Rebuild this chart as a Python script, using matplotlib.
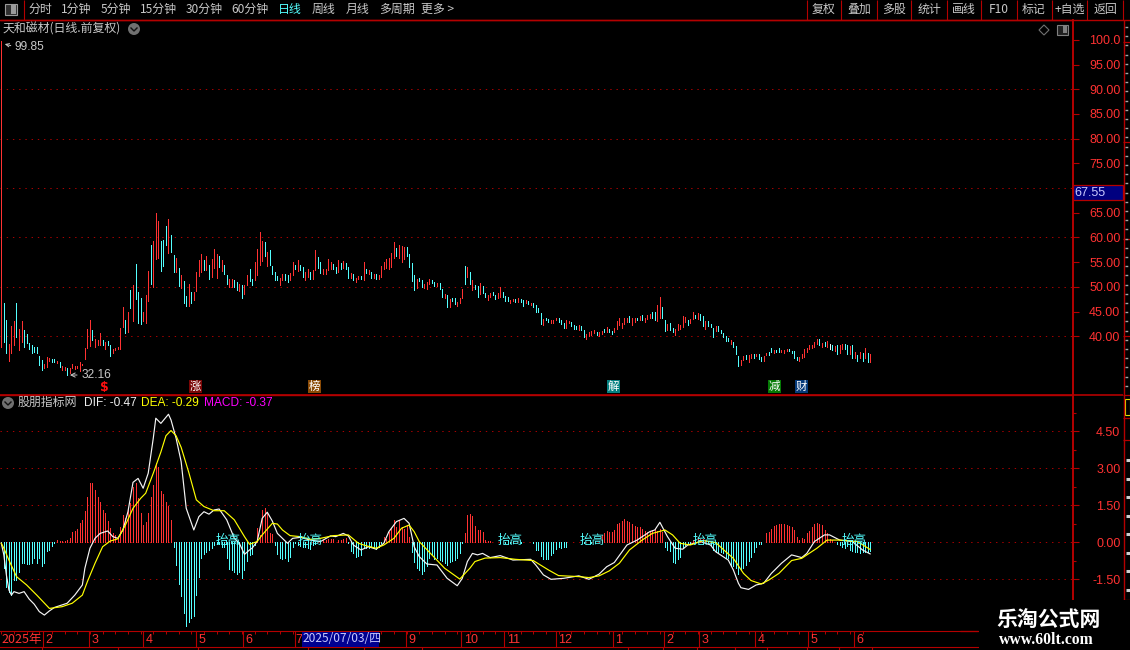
import numpy as np
import matplotlib
matplotlib.use("Agg")
from matplotlib import pyplot as plt
from matplotlib.patches import Rectangle, Circle, Polygon

plt.rcParams['font.family'] = ['Noto Sans CJK SC', 'DejaVu Sans']

highs = [
    99.85, 46.7, 43.3, 38.4, 42.0, 43.1, 46.7, 41.5, 43.1, 41.3,
    40.5, 38.6, 38.2, 37.9, 37.9, 36.0, 35.2, 34.4, 35.9, 35.7,
    35.4, 35.4, 35.0, 34.8, 33.9, 33.7, 33.6, 33.6, 34.4, 33.9,
    34.0, 34.8, 34.4, 37.6, 41.5, 43.3, 41.3, 39.4, 39.3, 40.6,
    39.3, 38.8, 39.1, 38.2, 37.4, 37.7, 37.9, 41.7, 46.0, 43.4,
    44.9, 49.4, 50.4, 54.6, 48.9, 47.8, 44.9, 48.4, 53.2, 58.5,
    59.3, 64.9, 63.3, 59.3, 59.5, 62.3, 63.8, 60.5, 56.5, 55.9,
    53.8, 52.4, 51.1, 48.2, 50.6, 49.0, 49.0, 53.1, 55.5, 56.6,
    55.5, 56.3, 54.4, 55.7, 57.7, 56.7, 56.3, 55.5, 54.4, 52.4,
    51.5, 51.6, 51.4, 50.9, 50.5, 50.4, 50.4, 52.4, 53.6, 51.6,
    55.0, 57.7, 61.1, 59.3, 59.0, 57.1, 57.5, 54.2, 53.1, 52.3,
    51.9, 52.6, 52.6, 52.4, 52.8, 55.0, 54.4, 55.5, 54.4, 54.1,
    53.1, 53.6, 53.1, 53.4, 57.5, 56.1, 55.1, 53.6, 53.6, 55.7,
    55.1, 54.6, 54.1, 55.5, 54.9, 55.2, 54.9, 54.1, 52.9, 52.6,
    51.9, 52.3, 52.3, 55.1, 53.6, 53.4, 53.1, 52.6, 52.6, 52.4,
    54.3, 55.1, 55.7, 55.9, 56.9, 59.0, 57.9, 58.5, 58.2, 58.0,
    58.0, 56.7, 54.9, 52.4, 51.5, 51.9, 51.4, 50.6, 51.0, 51.5,
    51.4, 51.0, 50.7, 50.7, 49.6, 48.6, 48.4, 47.5, 47.7, 47.7,
    47.0, 47.7, 49.6, 54.2, 54.0, 53.1, 51.4, 50.4, 50.2, 50.7,
    50.2, 48.7, 48.4, 48.7, 48.9, 48.4, 48.7, 49.9, 48.9, 48.2,
    47.9, 47.4, 47.6, 47.6, 47.7, 47.5, 47.4, 47.4, 47.1, 46.7,
    46.7, 46.3, 45.7, 44.7, 43.5, 43.8, 43.5, 43.3, 43.3, 43.8,
    43.8, 43.3, 42.7, 43.3, 43.0, 42.9, 42.3, 42.1, 42.2, 42.1,
    41.3, 40.5, 40.8, 41.1, 41.3, 40.9, 40.9, 41.1, 41.5, 41.9,
    41.5, 41.1, 41.6, 43.0, 43.7, 42.6, 43.7, 43.8, 44.1, 43.7,
    43.7, 43.7, 44.1, 44.3, 43.8, 44.3, 44.5, 44.9, 44.9, 46.3,
    47.9, 45.9, 43.3, 42.5, 42.6, 41.6, 41.5, 42.5, 42.3, 44.1,
    43.9, 43.3, 43.6, 44.9, 44.3, 44.7, 44.5, 44.1, 43.1, 43.0,
    42.5, 41.6, 42.1, 42.1, 41.3, 40.6, 40.1, 39.7, 39.3, 38.9,
    38.0, 36.0, 35.2, 36.0, 36.2, 36.2, 36.4, 36.4, 36.4, 36.4,
    35.8, 36.0, 36.6, 36.8, 37.6, 37.2, 37.2, 37.6, 37.2, 37.2,
    37.4, 37.4, 37.0, 37.0, 35.8, 35.8, 36.4, 37.4, 37.6, 38.2,
    38.2, 38.9, 39.5, 39.5, 38.7, 38.9, 39.1, 38.4, 38.2, 38.0,
    38.2, 38.2, 38.4, 38.4, 38.2, 38.0, 38.2, 36.8, 36.2, 36.8,
    36.6, 37.6, 36.6, 36.4,
]
lows = [
    37.9, 38.8, 36.7, 35.1, 36.7, 38.2, 39.9, 37.2, 38.8, 37.9,
    38.7, 37.4, 36.7, 36.9, 36.6, 34.2, 33.1, 33.5, 33.7, 34.9,
    34.7, 34.7, 34.5, 33.7, 33.2, 33.2, 32.2, 32.5, 33.5, 33.4,
    33.5, 33.0, 34.1, 35.5, 37.7, 38.0, 39.3, 37.9, 38.2, 38.2,
    38.2, 37.4, 38.2, 36.0, 36.7, 37.2, 37.4, 37.4, 41.8, 40.6,
    40.9, 45.7, 43.1, 47.6, 42.6, 42.5, 43.0, 42.6, 47.2, 50.5,
    49.9, 55.7, 55.9, 53.2, 54.2, 58.4, 56.8, 57.0, 53.1, 53.1,
    50.1, 49.7, 46.7, 46.2, 46.2, 46.7, 47.4, 49.2, 52.2, 53.1,
    53.4, 53.4, 51.6, 52.1, 53.8, 51.8, 54.1, 53.3, 52.6, 50.6,
    49.9, 49.9, 49.9, 49.4, 49.2, 47.8, 48.6, 50.3, 51.1, 50.4,
    51.4, 52.4, 54.4, 55.2, 56.3, 54.3, 54.4, 52.6, 51.4, 51.4,
    50.4, 51.4, 51.4, 50.9, 51.4, 52.4, 53.6, 53.2, 53.4, 52.1,
    51.4, 52.1, 51.6, 51.7, 53.4, 53.8, 52.8, 52.6, 52.6, 53.4,
    53.6, 53.6, 52.9, 53.0, 53.6, 53.8, 53.6, 51.9, 51.9, 51.4,
    51.0, 51.7, 51.5, 51.4, 52.9, 52.6, 51.9, 51.9, 51.6, 51.7,
    52.1, 53.6, 53.8, 53.6, 54.1, 55.8, 56.3, 55.9, 55.1, 55.7,
    56.3, 54.0, 51.2, 49.4, 49.7, 51.1, 49.9, 49.7, 49.6, 50.6,
    50.7, 50.1, 50.1, 49.6, 47.9, 47.7, 45.9, 45.9, 47.2, 46.5,
    46.1, 46.8, 47.7, 50.6, 52.1, 50.6, 49.4, 49.5, 47.9, 48.6,
    48.7, 47.9, 47.4, 47.9, 48.4, 47.6, 47.8, 47.9, 47.9, 47.2,
    47.2, 46.8, 47.1, 47.0, 47.0, 47.0, 46.1, 46.8, 46.5, 46.3,
    45.9, 44.9, 44.9, 42.5, 42.3, 43.3, 42.9, 42.7, 42.7, 43.4,
    42.9, 42.5, 41.7, 41.7, 42.7, 42.1, 41.5, 41.5, 41.3, 41.3,
    39.9, 39.5, 40.0, 40.3, 40.6, 40.3, 40.1, 40.5, 40.8, 40.8,
    40.9, 40.5, 40.8, 41.4, 42.3, 41.6, 42.5, 42.8, 42.8, 42.3,
    42.8, 43.2, 43.2, 43.2, 42.9, 43.5, 43.7, 43.8, 43.3, 43.1,
    43.8, 43.8, 41.1, 41.2, 41.3, 40.8, 40.3, 41.3, 41.5, 41.9,
    42.8, 42.3, 42.7, 43.5, 43.7, 43.5, 43.3, 42.1, 41.5, 42.1,
    41.8, 39.9, 41.1, 41.1, 40.6, 39.9, 39.1, 39.1, 38.4, 37.8,
    36.4, 34.0, 34.2, 35.2, 35.4, 34.8, 35.6, 35.6, 36.0, 35.4,
    35.0, 35.0, 36.2, 36.2, 36.8, 36.6, 36.8, 36.8, 36.8, 36.6,
    37.0, 37.0, 36.6, 35.6, 35.2, 35.0, 35.6, 35.8, 36.8, 37.4,
    37.6, 37.8, 38.4, 38.2, 37.8, 38.0, 37.8, 37.4, 37.2, 37.0,
    36.4, 36.6, 37.4, 37.4, 36.4, 36.4, 35.6, 35.6, 35.0, 35.6,
    35.0, 35.6, 34.8, 34.8,
]
# r = rising, c = falling, w = flat
bar_kind = (
    "rccrrrcrrc" "cccccccrrr" "ccrcrrcrrr" "rrrrrrcrrr" "crccrrrrrc"
    "rcrcccrrrc" "rrrcccrccr" "crccrcrrrr" "crcrrrcrcc" "rrccrcrrcc"
    "rrrrcrcccc" "rrccrrcrcc" "rrcrrccrrr" "rccrcrccrc" "rrcrcrcrcr"
    "rrrrrrcrrr" "ccccrccrrr" "ccrccrcrcc" "rrrcrcrccr" "ccrrccrrcc"
    "crrcrccrcr" "ccccrccrrr" "cccrrcccrc" "crrrrcrrcr" "ccrrrrrrcr"
    "rcrcrrrccr" "rccrccrrrr" "rcrrcrccrc" "ccrcccccrc" "ccrrcrrcrc"
    "crrccrccrr" "rccccrrrrr" "rrrcrcrwcr" "crrccrcrcr" "crcr"
)

macd = [
    -0.02, -1.05, -1.80, -2.00, -2.14, -1.53, -1.53, -1.19, -0.85, -0.85,
    -0.88, -0.88, -0.85, -0.65, -0.85, -0.65, -0.95, -0.85, -0.35, -0.31,
    -0.14, -0.02, 0.09, 0.07, 0.07, 0.07, 0.11, 0.16, 0.43, 0.46,
    0.53, 0.77, 0.91, 1.27, 1.85, 2.39, 2.42, 2.12, 1.85, 1.65,
    1.31, 1.18, 0.86, 0.57, 0.36, 0.30, 0.23, 0.64, 1.11, 0.97,
    1.38, 1.58, 2.26, 2.39, 1.78, 1.18, 0.70, 0.84, 1.18, 1.85,
    2.32, 3.20, 3.07, 2.08, 1.95, 1.65, 1.47, 0.91, -0.18, -0.92,
    -1.70, -2.18, -2.88, -3.38, -3.22, -3.05, -2.97, -2.14, -1.39, -0.62,
    -0.49, -0.41, -0.31, -0.24, -0.10, -0.05, -0.05, -0.20, -0.20, -0.62,
    -1.08, -1.12, -1.19, -1.30, -1.19, -1.43, -1.12, -0.74, -0.51, -0.49,
    -0.10, 0.57, 0.30, 1.31, 1.38, 1.22, 0.36, 0.32, -0.11, -0.49,
    -0.65, -0.68, -0.65, -0.74, -0.58, -0.18, -0.04, -0.10, -0.15, -0.20,
    -0.20, -0.25, -0.28, -0.10, -0.05, 0.03, 0.05, 0.10, 0.10, 0.15,
    0.15, 0.12, 0.02, 0.10, 0.10, 0.15, 0.18, -0.02, -0.35, -0.45,
    -0.58, -0.55, -0.50, -0.18, -0.24, -0.24, -0.20, -0.24, -0.28, -0.18,
    -0.04, 0.23, 0.12, 0.42, 0.58, 0.92, 0.62, 0.92, 0.62, 0.55,
    0.70, 0.22, -0.38, -0.78, -1.05, -1.12, -1.30, -1.16, -0.95, -0.62,
    -0.50, -0.68, -0.62, -0.70, -0.75, -0.85, -0.92, -0.80, -0.75, -0.72,
    -0.65, -0.45, -0.03, 0.38, 1.10, 1.15, 1.05, 0.65, 0.50, 0.50,
    0.42, 0.10, 0.07, 0.07, 0.02, 0.02, 0.02, -0.02, 0.03, -0.03,
    0.02, -0.02, 0.02, 0.02, 0.02, -0.02, 0.02, 0.02, 0.02, 0.02,
    -0.03, -0.30, -0.30, -0.55, -0.66, -0.66, -0.68, -0.50, -0.42, -0.27,
    -0.20, -0.22, -0.20, -0.18, 0.01, 0.02, 0.02, 0.02, 0.02, 0.02,
    -0.03, 0.03, 0.03, -0.03, 0.03, 0.03, 0.03, 0.30, 0.36, 0.46,
    0.43, 0.43, 0.50, 0.73, 0.80, 0.86, 0.95, 0.88, 0.81, 0.74,
    0.68, 0.61, 0.63, 0.53, 0.47, 0.41, 0.47, 0.50, 0.53, 0.46,
    0.53, 0.43, -0.18, -0.31, -0.35, -0.78, -0.82, -0.69, -0.58, -0.24,
    -0.10, -0.05, -0.08, 0.10, 0.12, 0.20, 0.15, 0.12, 0.10, 0.05,
    -0.10, -0.30, -0.38, -0.45, -0.38, -0.45, -0.65, -0.65, -0.92, -0.96,
    -1.05, -1.28, -1.12, -1.05, -0.92, -0.76, -0.58, -0.41, -0.18, -0.07,
    -0.07, 0.03, 0.36, 0.43, 0.54, 0.68, 0.70, 0.73, 0.73, 0.73,
    0.70, 0.68, 0.60, 0.50, 0.23, 0.10, 0.16, 0.12, 0.36, 0.47,
    0.60, 0.73, 0.80, 0.73, 0.70, 0.50, 0.36, 0.12, 0.10, 0.02,
    -0.05, -0.10, -0.20, -0.25, -0.15, -0.30, -0.35, -0.38, -0.38, -0.45,
    -0.38, -0.38, -0.38, -0.37,
]

# DIF / DEA read at the turning points of the curves
dif_idx = [
    0, 1, 2, 3, 4, 5, 7, 9, 11, 13, 15, 17, 19, 21, 24, 26, 29, 32, 33, 35,
    37, 39, 42, 44, 46, 48, 50, 52, 54, 56, 58, 60, 61, 63, 66, 67, 69, 71, 72, 73,
    76, 78, 80, 82, 84, 86, 89, 92, 94, 96, 98, 99, 101, 103, 105, 107, 109, 113, 115, 118,
    122, 126, 130, 132, 135, 137, 139, 142, 145, 148, 151, 153, 156, 159, 161, 163, 165, 168, 172, 176,
    180, 182, 184, 186, 188, 190, 193, 197, 202, 209, 211, 214, 217, 222, 228, 232, 236, 239, 242, 247,
    251, 256, 258, 260, 263, 266, 269, 271, 276, 280, 282, 287, 289, 291, 292, 295, 298, 301, 304, 308,
    312, 316, 318, 321, 325, 327, 331, 336, 340, 343,
]
dif = [
    -0.04, -0.51, -1.32, -1.93, -2.14, -2.00, -2.07, -2.00, -2.30, -2.51, -2.81, -2.95, -2.78, -2.64, -2.54, -2.47, -2.14, -1.73, -1.05, -0.24,
    0.16, 0.36, 0.46, 0.23, 0.16, 0.50, 1.24, 2.43, 2.59, 2.19, 2.80, 4.22, 5.03, 4.82, 5.19, 4.96, 4.22, 3.27, 2.32, 1.38,
    0.50, 1.04, 1.24, 1.14, 1.31, 1.35, 0.91, 0.16, -0.04, -0.49, -0.31, -0.24, 0.03, 0.97, 1.22, 0.86, 0.36, -0.04, 0.16, 0.20,
    0.09, 0.03, 0.26, 0.23, 0.36, 0.26, -0.11, -0.31, -0.18, -0.28, -0.04, 0.43, 0.84, 0.97, 0.77, -0.18, -0.58, -0.88, -0.92, -1.46,
    -1.76, -1.46, -0.78, -0.45, -0.51, -0.45, -0.62, -0.54, -0.72, -0.69, -0.92, -1.32, -1.50, -1.46, -1.36, -1.50, -1.29, -0.99, -0.82, -0.11,
    0.09, 0.43, 0.50, 0.81, 0.23, -0.24, -0.28, -0.11, 0.03, -0.11, -0.38, -0.72, -1.12, -1.66, -1.84, -1.91, -1.73, -1.66, -1.26, -0.85,
    -0.51, -0.62, -0.45, 0.03, 0.30, 0.30, 0.09, 0.03, -0.31, -0.47,
]
dea_idx = [
    0, 1, 3, 6, 10, 14, 19, 24, 28, 32, 34, 37, 40, 43, 46, 49, 52, 55, 57, 60,
    63, 65, 67, 69, 71, 74, 77, 80, 84, 88, 92, 96, 98, 101, 103, 107, 109, 111, 114, 118,
    122, 126, 131, 137, 141, 144, 148, 151, 155, 158, 161, 163, 165, 170, 175, 181, 185, 187, 191, 197,
    203, 210, 216, 220, 228, 232, 236, 240, 244, 248, 253, 257, 262, 265, 268, 272, 277, 282, 286, 289,
    293, 296, 300, 303, 307, 312, 316, 322, 326, 331, 338, 343,
]
dea = [
    -0.04, -0.24, -0.72, -1.39, -1.73, -2.14, -2.68, -2.61, -2.47, -2.14, -1.59, -0.85, -0.18, 0.05, 0.14, 0.70, 1.38, 1.78, 1.99, 2.80,
    3.66, 4.32, 4.53, 4.32, 3.85, 2.84, 1.72, 1.45, 1.28, 1.28, 0.91, 0.23, -0.08, 0.03, 0.30, 0.77, 0.74, 0.50, 0.27, 0.23,
    0.12, 0.16, 0.27, 0.30, -0.04, -0.14, -0.24, -0.11, 0.16, 0.57, 0.70, 0.43, 0.03, -0.51, -1.05, -1.49, -1.05, -0.78, -0.64, -0.62,
    -0.69, -0.74, -1.12, -1.35, -1.39, -1.43, -1.36, -1.16, -0.85, -0.31, 0.09, 0.36, 0.50, 0.30, -0.04, -0.11, 0.07, -0.01, -0.38, -0.65,
    -1.26, -1.55, -1.69, -1.53, -1.26, -0.74, -0.65, -0.24, 0.09, 0.09, 0.03, -0.29,
]

price_ticks = [100, 95, 90, 85, 80, 75, 65, 60, 55, 50, 45, 40]
price_labels = ["100.0", "95.00", "90.00", "85.00", "80.00", "75.00", "65.00", "60.00", "55.00", "50.00", "45.00", "40.00"]
price_grid = [90, 80, 70, 60, 50, 40]
macd_ticks = [4.5, 3.0, 1.5, 0.0, -1.5]
macd_labels = ["4.50", "3.00", "1.50", "0.00", "-1.50"]
macd_minor = [5.25, 3.75, 2.25, 0.75, -0.75]

tag_idx = [89.5, 121.9, 200.8, 233.2, 277.8, 336.8]
tag_text = "抬高"

event_idx = [40.5, 76.5, 123.7, 241.7, 305.3, 315.9]
event_text = ["$", "涨", "榜", "解", "减", "财"]
event_bg = ["none", "#7a0505", "#8a4a05", "#058080", "#057a05", "#053a7a"]

month_idx = [16.5, 34.6, 55.9, 76.9, 95.4, 116, 159.7, 181.5, 198.5, 219, 241.5, 261.6, 275.4, 297.5, 318.4, 336.6]
month_text = ["2", "3", "4", "5", "6", "7", "9", "10", "11", "12", "1", "2", "3", "4", "5", "6"]

menu_left = ["分时", "1分钟", "5分钟", "15分钟", "30分钟", "60分钟", "日线", "周线", "月线", "多周期", "更多 >"]
menu_left_x = [40, 76, 116, 158, 204, 250, 290, 323, 358, 397, 438]
menu_right = ["复权", "叠加", "多股", "统计", "画线", "F10", "标记", "+自选", "返回"]
menu_right_x = [824, 859, 894, 929, 964, 999, 1034, 1070, 1105]
menu_sep = [807, 841, 877, 911, 947, 981, 1017, 1052, 1087, 1123]

RED = "#ff3232"
CYAN = "#54ffff"
LINE = "#b40000"
GREY = "#c8c8c8"
W, H = 1130, 650
STEP = 2.533
X0 = 1.3
THIN = 0.6


def px_axes(fig, left, top, right, bottom):
    ax = fig.add_axes([left / W, 1 - bottom / H, (right - left) / W, (bottom - top) / H])
    ax.set_facecolor("black")
    ax.set_xlim((left - X0) / STEP, (right - X0) / STEP)
    return ax


def style_panel(ax):
    ax.set_xticks([])
    for side in ("left", "bottom"):
        ax.spines[side].set_visible(False)
    ax.spines["right"].set_color(LINE)
    ax.spines["right"].set_linewidth(1.4)
    ax.spines["top"].set_color(LINE)
    ax.spines["top"].set_linewidth(1.0)
    ax.yaxis.tick_right()
    ax.tick_params(axis="y", which="major", colors=LINE, length=4, width=0.8, pad=30.5, labelcolor=RED)
    ax.tick_params(axis="y", which="minor", colors=LINE, length=2.5, width=0.8)


fig = plt.figure(figsize=(W / 100, H / 100), dpi=100, facecolor="black")

# price panel
ax = px_axes(fig, 0, 20, 1072.5, 394.5)
ax.set_ylim(40 + (336.3 - 394.5) / 4.94, 40 + (336.3 - 20) / 4.94)
style_panel(ax)
ax.set_yticks(price_ticks)
ax.set_yticklabels(price_labels, ha="right", family="Liberation Sans", fontsize=9)
ax.set_yticks([90, 80, 70, 60, 50, 40, 100], minor=True)
ax.hlines(price_grid, ax.get_xlim()[0], ax.get_xlim()[1], color="#b00000", lw=0.7,
          linestyles=(0, (1.4, 5)), zorder=1)

idx = np.arange(len(highs))
kind_colors = {"r": RED, "c": CYAN, "w": "#f0f0f0"}
bar_colors = [kind_colors[k] for k in bar_kind]
ax.vlines(idx, lows, highs, colors=bar_colors, lw=THIN, antialiased=False, zorder=3)

ax.annotate("", xy=(26.0, 32.16), xytext=(31.0, 32.16), zorder=4,
            arrowprops=dict(arrowstyle="->,head_width=0.15,head_length=0.3", color=GREY, lw=0.7))
ax.text(31.6, 32.16, "32.16", color=GREY, fontsize=8.6, va="center", family="Liberation Sans")
ax.text(5.4, 98.6, "99.85", color=GREY, fontsize=8.6, va="center", ha="left", family="Liberation Sans")
ax.annotate("", xy=(0.3, 99.3), xytext=(4.8, 98.7), zorder=4,
            arrowprops=dict(arrowstyle="->,head_width=0.12,head_length=0.25", color=GREY, lw=0.7))

# MACD panel
ax2 = px_axes(fig, 0, 394.5, 1072.5, 630.5)
ax2.set_ylim((542.3 - 630.5) / 24.67, (542.3 - 394.5) / 24.67)
style_panel(ax2)
ax2.set_yticks(macd_ticks)
ax2.set_yticklabels(macd_labels, ha="right", family="Liberation Sans", fontsize=9)
ax2.set_yticks(macd_minor, minor=True)
ax2.hlines(macd_ticks, ax2.get_xlim()[0], ax2.get_xlim()[1], color="#b00000", lw=0.7,
           linestyles=(0, (1.4, 5)), zorder=1)

macd_colors = [RED if v >= 0 else CYAN for v in macd]
ax2.vlines(np.arange(len(macd)), 0, macd, colors=macd_colors, lw=THIN, antialiased=False, zorder=2)
ax2.plot(dea_idx, dea, color="#ffff00", lw=0.85, zorder=4)
ax2.plot(dif_idx, dif, color="#f5f5f5", lw=0.85, zorder=3)
for t in tag_idx:
    ax2.text(t, 0.06, tag_text, color=CYAN, fontsize=9, ha="center", va="center", zorder=5)

# date strip
ax3 = px_axes(fig, 0, 630.5, 978, 647)
ax3.set_ylim(1, 0)
ax3.set_xticks([])
ax3.set_yticks([])
for side in ax3.spines:
    ax3.spines[side].set_visible(False)
ax3.spines["bottom"].set_visible(True)
ax3.spines["top"].set_visible(True)
ax3.spines["bottom"].set_color(LINE)
ax3.spines["top"].set_color(LINE)
ax3.vlines(np.arange(0, 344, 5), 0, 0.2, color=LINE, lw=0.7)
ax3.vlines(month_idx, 0, 1, color=LINE, lw=0.8)
for m, label in zip(month_idx, month_text):
    # the 7 sits tight against the highlighted date
    offset = 0.2 if label == "7" and m == 116 else 1.0
    ax3.text(m + offset, 0.55, label, color=RED, fontsize=9, va="center", family="Liberation Sans")
ax3.text(0.2, 0.55, "2025年", color=RED, fontsize=9, va="center")

# everything around the panels, in pixels
ov = fig.add_axes([0, 0, 1, 1], facecolor="none")
ov.set_xlim(0, W)
ov.set_ylim(H, 0)
ov.axis("off")

ov.hlines(19.5, 0, W, color=LINE, lw=1.0)
ov.vlines(23.5, 0, 19.5, color=LINE, lw=0.8)
ov.vlines(menu_sep, 0, 19.5, color=LINE, lw=0.8)
ov.add_patch(Rectangle((5, 4), 12, 11, fc="#303030", ec="#9a9a9a", lw=0.8))
ov.add_patch(Rectangle((11, 5), 5, 9, fc="#9a9a9a", ec="none"))
for x, label in zip(menu_left_x, menu_left):
    ov.text(x, 9.5, label, color=CYAN if label == "日线" else GREY, fontsize=8.6, ha="center", va="center")
for x, label in zip(menu_right_x, menu_right):
    ov.text(x, 9.5, label, color=GREY, fontsize=8.6, ha="center", va="center")

ov.text(3, 29, "天和磁材(日线.前复权)", color=GREY, fontsize=8.6, va="center")
ov.add_patch(Circle((134, 29), 6, fc="#707070", ec="none"))
ov.plot([131, 134, 137], [28, 31, 28], color="#111111", lw=1.0)
ov.add_patch(Polygon([(1044, 25), (1049, 30), (1044, 35), (1039, 30)], fc="none", ec="#707070", lw=0.8))
ov.add_patch(Rectangle((1057, 24.5), 11, 10, fc="#202020", ec="#808080", lw=0.8))
ov.add_patch(Rectangle((1063, 26), 4, 7, fc="#808080", ec="none"))

# event tags above the MACD panel
for i, label, bg in zip(event_idx, event_text, event_bg):
    x = X0 + STEP * i
    if bg != "none":
        ov.add_patch(Rectangle((x - 6.5, 380), 13, 13, fc=bg, ec="none"))
        ov.text(x, 386.2, label, color="white", fontsize=8.2, ha="center", va="center")
    else:
        ov.text(x, 387, label, color="#ff1010", fontsize=9, ha="center", va="center",
                fontweight="bold", family="DejaVu Sans")

# MACD header
ov.add_patch(Circle((8, 403), 6, fc="#707070", ec="none"))
ov.plot([5, 8, 11], [402, 405, 402], color="#111111", lw=1.0)
ov.text(18, 402.5, "股朋指标网", color=GREY, fontsize=8.6, va="center")
ov.text(84, 402.5, "DIF: -0.47", color="#f0f0f0", fontsize=8.6, va="center", family="Liberation Sans")
ov.text(141, 402.5, "DEA: -0.29", color="#ffff00", fontsize=8.6, va="center", family="Liberation Sans")
ov.text(204, 402.5, "MACD: -0.37", color="#ff00ff", fontsize=8.6, va="center", family="Liberation Sans")

# current price box
ov.add_patch(Rectangle((1073, 184.5), 50, 15.5, fc="#000080", ec=LINE, lw=0.9))
ov.text(1074, 192.5, "67.55", color="#c8c8ff", fontsize=9, va="center", family="Liberation Sans")

# highlighted date
ov.add_patch(Rectangle((302, 631.5), 76.5, 15, fc="#000090", ec="none"))
ov.text(303, 639, "2025/07/03/四", color="#c8c8ff", fontsize=8.6, va="center")

# ticks of the row below the date strip
ov.vlines([42, 118, 198, 308, 364, 422, 628, 663, 697, 735, 767, 807, 839, 872], 647, 650, color=LINE, lw=0.8)
ov.hlines(394.5, 0, 1123, color=LINE, lw=1.2)

# cut off list at the right edge
ov.vlines(1123.5, 20, 600, color=LINE, lw=1.0)
ov.hlines([42, 142, 239, 336, 395, 418, 440, 600], 1123, W, color=LINE, lw=0.9)
for y in np.arange(27, 395, 9.2):
    ov.hlines(y, 1125, 1130, color="#a8a8a8", lw=1.0, linestyles=(0, (2, 1.5)))
for y in np.arange(460, 600, 18.5):
    ov.hlines(y, 1126, 1130, color="#d0d0d0", lw=2.2)
ov.add_patch(Rectangle((1125, 399), 5, 16, fc="none", ec="#e0e000", lw=0.8))

# site mark
ov.add_patch(Rectangle((978.5, 600), W - 978.5, 50, fc="black", ec="none", zorder=6))
ov.hlines([630.5], 960, 978, color=LINE, lw=0.9)
ov.text(1049, 619, "乐淘公式网", color="white", fontsize=15, fontweight="bold", ha="center", va="center", zorder=7)
ov.text(1046, 640, "www.60lt.com", color="white", fontsize=11.3, fontweight="bold", ha="center", va="center",
        family="Liberation Serif", zorder=7)

fig.savefig("out.png", dpi=100, facecolor="black")
